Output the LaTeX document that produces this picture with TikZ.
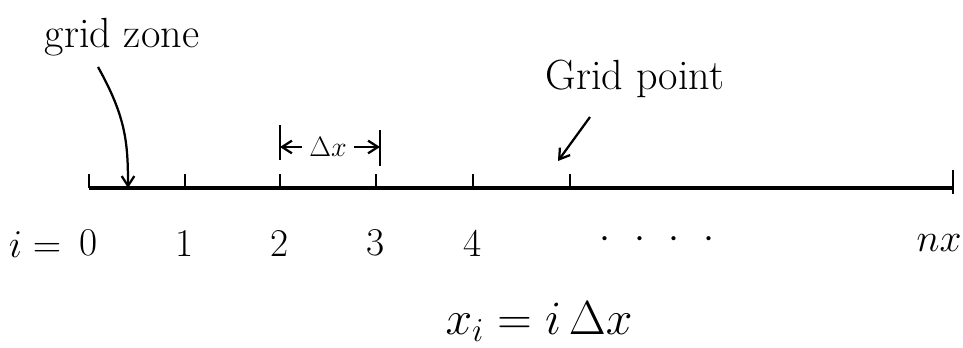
\RequirePackage{fix-cm}
\documentclass[tikz,border=0pt]{standalone}
\usepackage{tikz}
\usetikzlibrary{positioning,calc,arrows.meta}

\begin{document}
\begin{tikzpicture}[
    x=0.025cm, y=0.025cm,
    axisline/.style={line width=2.2pt},
    tickmark/.style={line width=1.6pt},
    handtext/.style={font=\fontsize{28}{32}\selectfont, inner sep=1pt},
    pointer/.style={-{Straight Barb[length=7pt,width=9pt]}, line width=1.6pt}
  ]
    \useasboundingbox (0,0) rectangle (963,348);

    % the grid line with its points
    \coordinate (left) at (89,160);
    \coordinate (right) at (953,160);
    \draw[axisline] (left) -- (right);
    \foreach \x/\lab [count=\k from 0] in {89/0,185/1,280/2,376/3,473/4} {
      \coordinate (p\k) at (\x,160);
      \draw[tickmark] (p\k) -- ++(0,14);
      \node[handtext] (lab\k) at (\x,105) {\lab};
    }
    \coordinate (p5) at (570,160);
    \draw[tickmark] (p5) -- ++(0,14);
    \draw[tickmark] ($(right)+(0,-6)$) -- ++(0,24);

    \node[handtext] (ieq) at (35,103) {$i =$};
    \node[handtext] (dots) at (657,108) {$\cdot$\hspace{0.6em}$\cdot$\hspace{0.6em}$\cdot$\hspace{0.6em}$\cdot$};
    \node[handtext] (labnx) at (939,105) {$nx$};

    % grid zone
    \node[handtext, font=\fontsize{30}{34}\selectfont] (zone) at (122,311) {grid zone};
    \coordinate (zonemid) at (128,160);
    \draw[pointer] (98,281) .. controls +(28,-50) and +(0,45) .. (zonemid);

    % spacing between two points
    \draw[tickmark] (280,188) coordinate (dxlb) -- (280,223);
    \draw[tickmark] (380,182) coordinate (dxrb) -- (380,218);
    \node[handtext, font=\fontsize{20}{24}\selectfont] (dx) at (328,201) {$\Delta x$};
    \draw[pointer, shorten <=4pt] (dx) -- (dx -| dxlb);
    \draw[pointer, shorten <=4pt] (dx) -- (dx -| dxrb);

    % grid point
    \node[handtext, font=\fontsize{30}{34}\selectfont] (gp) at (635,269) {Grid point};
    \coordinate (gptarget) at (558,187);
    \draw[pointer] (590,231) -- (gptarget);

    \node[handtext, font=\fontsize{34}{38}\selectfont] (xi) at (539,26) {$x_i = i\,\Delta x$};
\end{tikzpicture}
\end{document}
